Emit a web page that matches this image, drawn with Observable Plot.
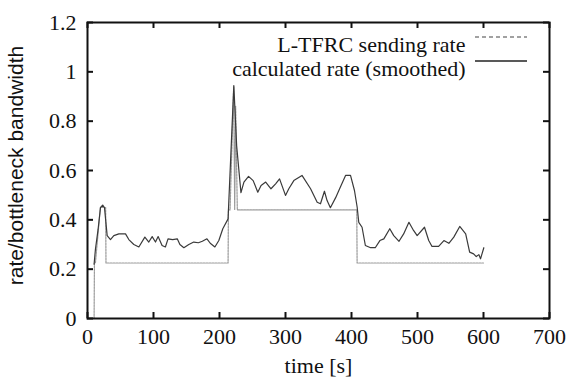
<!DOCTYPE html>
<html><head><meta charset="utf-8">
<script src="https://cdn.jsdelivr.net/npm/d3@7"></script>
<script src="https://cdn.jsdelivr.net/npm/@observablehq/plot@0.6"></script>
<style>body{margin:0;background:#fff} #chart{position:relative;width:569px;height:383px}
#chart svg text{font-family:'Liberation Serif','DejaVu Serif',serif}
#chart svg .ylab text{font-family:'Liberation Sans','DejaVu Sans',sans-serif}
</style>
</head><body><div id="chart"></div>
<script>
// ---- data ----
const sendT = [10, 10.5, 12, 19.5, 25, 27.5, 28, 213, 213.5, 216, 221.5, 223, 224.5, 227, 408, 408.5, 600];
const sendV = [0, 0.225, 0.225, 0.45, 0.45, 0.45, 0.225, 0.225, 0.44, 0.44, 0.94, 0.44, 0.86, 0.44, 0.44, 0.225, 0.225];

const calcT = [10, 12, 16, 19.7, 23, 25.7, 29.8, 34.8, 39.9, 47.5, 57.6, 62.6, 70.2, 77.8, 86.9, 92.9, 98, 103, 107, 113, 118, 122, 129, 136, 140, 146, 153.5, 161, 168, 174, 181, 186, 193, 199, 205, 213, 221.7, 226, 232.5, 237, 244, 251, 258, 263, 270, 278, 285, 291, 300, 305, 312.6, 325, 338, 348, 353, 359, 363, 368, 376, 383, 391, 398.5, 404.5, 408.6, 411, 416, 421, 429, 436, 443, 449, 458, 464, 472, 479, 487, 494, 499.5, 510.6, 517, 522, 532, 540, 547.5, 555, 564, 573, 579, 585, 589, 593, 595.5, 600.5];
const calcV = [0.22, 0.28, 0.36, 0.45, 0.46, 0.45, 0.336, 0.32, 0.336, 0.343, 0.343, 0.32, 0.30, 0.29, 0.33, 0.31, 0.332, 0.31, 0.332, 0.296, 0.29, 0.323, 0.32, 0.323, 0.30, 0.287, 0.30, 0.31, 0.307, 0.313, 0.323, 0.305, 0.29, 0.316, 0.364, 0.404, 0.944, 0.70, 0.51, 0.553, 0.576, 0.559, 0.512, 0.539, 0.553, 0.526, 0.546, 0.566, 0.499, 0.526, 0.559, 0.58, 0.526, 0.471, 0.465, 0.516, 0.478, 0.449, 0.49, 0.532, 0.58, 0.58, 0.519, 0.451, 0.39, 0.37, 0.296, 0.287, 0.287, 0.316, 0.323, 0.364, 0.336, 0.313, 0.343, 0.39, 0.357, 0.336, 0.37, 0.316, 0.292, 0.292, 0.316, 0.305, 0.33, 0.373, 0.343, 0.269, 0.262, 0.251, 0.259, 0.242, 0.287];

const xTicks = [0, 100, 200, 300, 400, 500, 600, 700];
const yTicks = [0, 0.2, 0.4, 0.6, 0.8, 1, 1.2];
const yTickLabels = ["0", "0.2", "0.4", "0.6", "0.8", "1", "1.2"];
const seriesNames = ["L-TFRC sending rate", "calculated rate (smoothed)"];
const xLabel = "time [s]";
const yLabel = "rate/bottleneck bandwidth";

// ---- layout ----
const W = 569, H = 383, ML = 87, MR = 20, MT = 22, MB = 65;
const IW = W - ML - MR, IH = H - MT - MB, TK = 6;
const serif = "Liberation Serif";
const sans = "Liberation Sans";
const ink = "#111";

const send = sendT.map((t, i) => ({t, v: sendV[i]}));
const calc = calcT.map((t, i) => ({t, v: calcV[i]}));
const yFmt = d => yTickLabels[yTicks.findIndex(v => Math.abs(v - d) < 1e-9)];

const plot = Plot.plot({
  width: W, height: H,
  marginLeft: ML, marginRight: MR, marginTop: MT, marginBottom: MB,
  style: "font-family: 'Liberation Serif', serif; font-size: 22px; background: #fff; color: #111;",
  x: {domain: [0, 700]},
  y: {domain: [0, 1.2]},
  marks: [
    Plot.line(send, {x: "t", y: "v", stroke: "#9a9a9a", strokeWidth: 1.2, strokeDasharray: "2,1"}),
    Plot.line(calc, {x: "t", y: "v", stroke: "#3a3a3a", strokeWidth: 1.2}),
    Plot.axisX({ticks: xTicks, tickSize: 0, tickPadding: 10, label: null, fill: ink, fontFamily: serif, fontSize: 22}),
    Plot.axisY({ticks: yTicks, tickSize: 0, tickPadding: 11, tickFormat: yFmt, label: null, fill: ink, fontFamily: serif, fontSize: 22}),
    Plot.tickX(xTicks, {x: d => d, insetTop: IH - TK, stroke: ink, strokeWidth: 2}),
    Plot.tickX(xTicks, {x: d => d, insetBottom: IH - TK, stroke: ink, strokeWidth: 2}),
    Plot.tickY(yTicks, {y: d => d, insetRight: IW - TK, stroke: ink, strokeWidth: 2}),
    Plot.tickY(yTicks, {y: d => d, insetLeft: IW - TK, stroke: ink, strokeWidth: 2}),
    Plot.frame({stroke: ink, strokeWidth: 2}),
    Plot.text([yLabel], {frameAnchor: "left", textAnchor: "middle", dx: -71, dy: -5, rotate: -90, fontFamily: sans, fontSize: 21, fill: ink, className: "ylab"}),
    Plot.text([xLabel], {frameAnchor: "bottom", dy: 54, fontFamily: serif, fontSize: 22, fill: ink}),
    Plot.text([seriesNames[0]], {frameAnchor: "top-right", textAnchor: "end", dx: -84, dy: 14, fontFamily: serif, fontSize: 22, fill: ink}),
    Plot.text([seriesNames[1]], {frameAnchor: "top-right", textAnchor: "end", dx: -84, dy: 38, fontFamily: serif, fontSize: 22, fill: ink})
  ]
});
document.getElementById("chart").appendChild(plot);

// legend sample lines
const svg = d3.select(plot);
const lx1 = W - MR - 74, lx2 = W - MR - 22;
svg.append("line").attr("x1", lx1).attr("x2", lx2).attr("y1", MT + 15).attr("y2", MT + 15)
  .attr("stroke", "#444").attr("stroke-width", 1.2).attr("stroke-dasharray", "4,3");
svg.append("line").attr("x1", lx1).attr("x2", lx2).attr("y1", MT + 39).attr("y2", MT + 39)
  .attr("stroke", "#222").attr("stroke-width", 1.4);
</script>
</body></html>
